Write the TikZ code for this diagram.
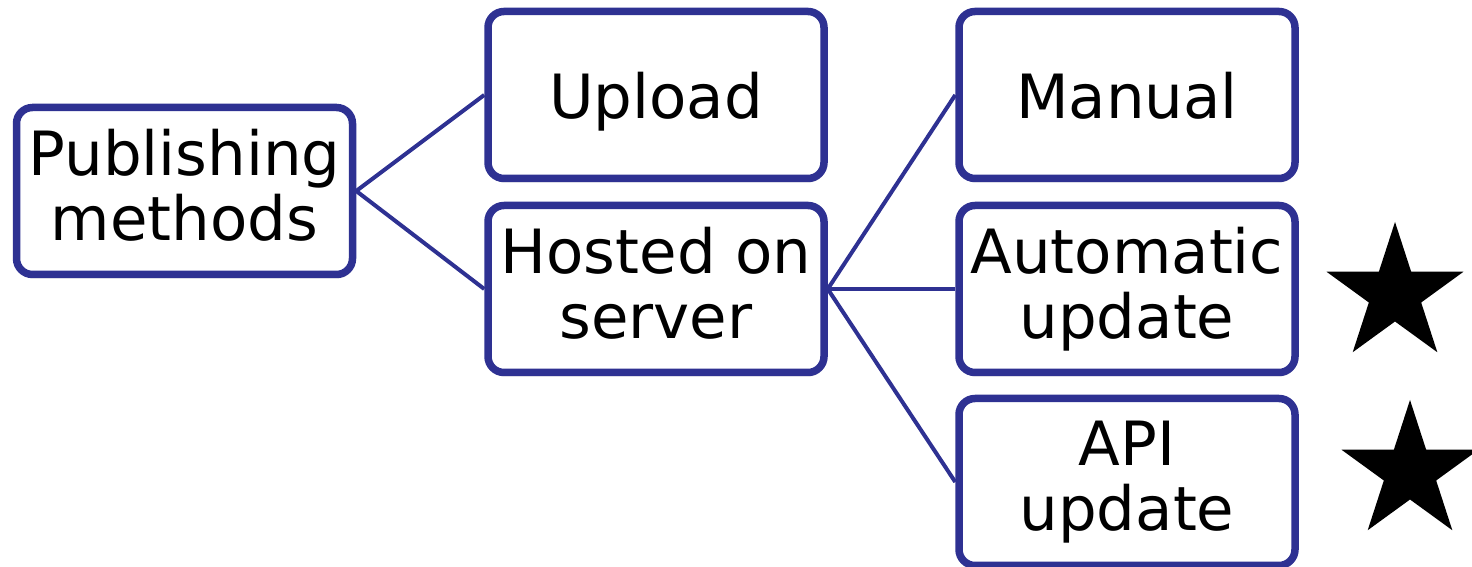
\documentclass[tikz,border=0pt]{standalone}
\usepackage{fontspec}
\setmainfont{DejaVu Sans}
\usetikzlibrary{shapes.geometric,shadows}

\definecolor{boxblue}{RGB}{46,49,146}

\begin{document}
\begin{tikzpicture}[x=1pt,y=1pt,
    methodbox/.style={draw=boxblue, line width=7.5pt, rounded corners=16pt, fill=white,
        minimum width=336pt, minimum height=167pt, align=center, inner sep=0pt,
        font=\fontsize{61}{65}\selectfont,
        execute at begin node={\rule{0pt}{60pt}},
        execute at end node={\rule[-13pt]{0pt}{13pt}},
        drop shadow={opacity=0.25, shadow xshift=1pt, shadow yshift=-4pt}},
    branch/.style={draw=boxblue, line width=4pt},
    starmark/.style={star, star points=5, star point ratio=2.618, fill=black,
        minimum size=144pt, inner sep=0pt}]
    \useasboundingbox (0,0) rectangle (1472,567);

    % tree
    \node[methodbox] (publish) at (184.5,376) {Publishing\\methods};
    \node[methodbox] (upload) at (656,472) {Upload};
    \node[methodbox] (hosted) at (656,278) {Hosted on\\server};
    \node[methodbox] (manual) at (1127,472) {Manual};
    \node[methodbox] (auto) at (1127,278) {Automatic\\update};
    \node[methodbox] (api) at (1127,85) {API\\update};

    \draw[branch] (publish.east) -- (upload.west);
    \draw[branch] (publish.east) -- (hosted.west);
    \draw[branch] (hosted.east) -- (manual.west);
    \draw[branch] (hosted.east) -- (auto.west);
    \draw[branch] (hosted.east) -- (api.west);

    % stars
    \node[starmark] (autostar) at (1395,273) {};
    \node[starmark] (apistar) at (1410,95) {};
\end{tikzpicture}
\end{document}
